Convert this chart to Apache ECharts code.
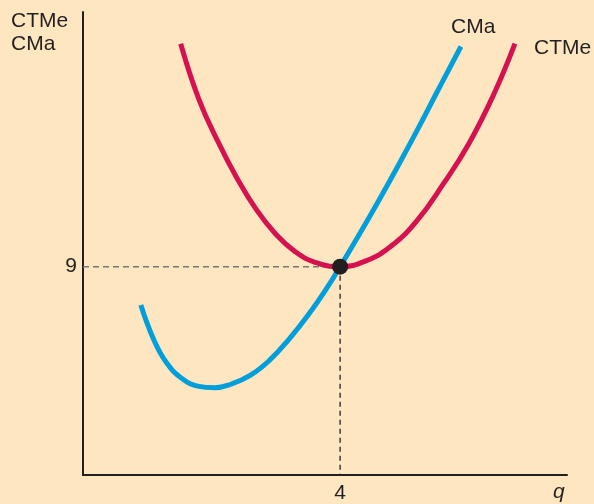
<!DOCTYPE html>
<html>
<head>
<meta charset="utf-8">
<script src="https://cdn.jsdelivr.net/npm/echarts@6/dist/echarts.min.js"></script>
<style>
html,body{margin:0;padding:0;background:#FDE6C0;}
#chart{width:594px;height:504px;}
</style>
</head>
<body>
<div id="chart"></div>
<script>
// Data (q, cost)
const ctmeQ = [1.52, 1.8, 2.1, 2.4, 2.7, 3.0, 3.3, 3.6, 4.0, 4.4, 4.8, 5.2, 5.6, 6.0, 6.4, 6.72];
const ctmeV = [18.63, 16.25, 14.4, 12.8, 11.45, 10.4, 9.65, 9.2, 9.0, 9.25, 9.9, 11.0, 12.55, 14.3, 16.5, 18.63];
const cmaQ = [0.9, 1.1, 1.3, 1.55, 1.8, 2.05, 2.3, 2.6, 2.9, 3.2, 3.5, 3.8, 4.0, 4.3, 4.6, 4.9, 5.2, 5.5, 5.88];
const cmaV = [7.34, 5.85, 4.85, 4.15, 3.83, 3.77, 3.92, 4.3, 4.95, 5.85, 6.9, 8.1, 9.0, 10.4, 11.85, 13.35, 14.9, 16.5, 18.51];
const eqQ = 4;
const eqV = 9;
const xTickLabels = [4];
const yTickLabels = [9];
const seriesNames = ['CMa', 'CTMe'];
const yAxisTitle = ['CTMe', 'CMa'];
const xAxisTitle = 'q';

const font = 'Liberation Sans, Arial, sans-serif';
const zip = (a, b) => a.map((v, i) => [v, b[i]]);

const chart = echarts.init(document.getElementById('chart'));
chart.setOption({
  backgroundColor: '#FDE6C0',
  animation: false,
  grid: {left: 83, top: 12, right: 27, bottom: 26},
  xAxis: {
    type: 'value', min: 0, max: 7.53, interval: 4,
    axisLine: {show: true, lineStyle: {color: '#231F20', width: 2}},
    axisTick: {show: false},
    splitLine: {show: false},
    axisLabel: {
      margin: 8, color: '#231F20', fontSize: 21, fontFamily: font,
      formatter: v => xTickLabels.includes(v) ? String(v) : ''
    }
  },
  yAxis: {
    type: 'value', min: 0, max: 20, interval: 9,
    axisLine: {show: true, lineStyle: {color: '#231F20', width: 2}},
    axisTick: {show: false},
    splitLine: {show: false},
    axisLabel: {
      margin: 6, color: '#231F20', fontSize: 21, fontFamily: font,
      formatter: v => yTickLabels.includes(v) ? String(v) : ''
    }
  },
  graphic: [
    {type: 'text', left: 11, top: 10, style: {text: yAxisTitle.join('\n'), font: '21px ' + font, fill: '#231F20', lineHeight: 23}},
    {type: 'text', left: 553, top: 482, style: {text: xAxisTitle, font: 'italic 21px ' + font, fill: '#231F20'}},
    {type: 'text', left: 451, top: 17, style: {text: seriesNames[0], font: '21px ' + font, fill: '#231F20'}},
    {type: 'text', left: 534, top: 38, style: {text: seriesNames[1], font: '21px ' + font, fill: '#231F20'}}
  ],
  series: [
    {
      type: 'line', data: [[0, eqV], [eqQ, eqV]], symbol: 'none', z: 1,
      lineStyle: {color: '#7A7672', width: 1.5, type: [6, 4]}
    },
    {
      type: 'line', data: [[eqQ, eqV], [eqQ, 0]], symbol: 'none', z: 1,
      lineStyle: {color: '#231F20', width: 1.3, type: [5, 4]}
    },
    {
      name: seriesNames[1], type: 'line', data: zip(ctmeQ, ctmeV), smooth: 0.45, symbol: 'none', z: 2,
      lineStyle: {color: '#D6114F', width: 5, cap: 'butt'}
    },
    {
      name: seriesNames[0], type: 'line', data: zip(cmaQ, cmaV), smooth: 0.45, symbol: 'none', z: 3,
      lineStyle: {color: '#009EDB', width: 5, cap: 'butt'}
    },
    {
      type: 'scatter', data: [[eqQ, eqV]], symbolSize: 16, z: 5,
      itemStyle: {color: '#231F20', opacity: 1}
    }
  ]
});
</script>
</body>
</html>
